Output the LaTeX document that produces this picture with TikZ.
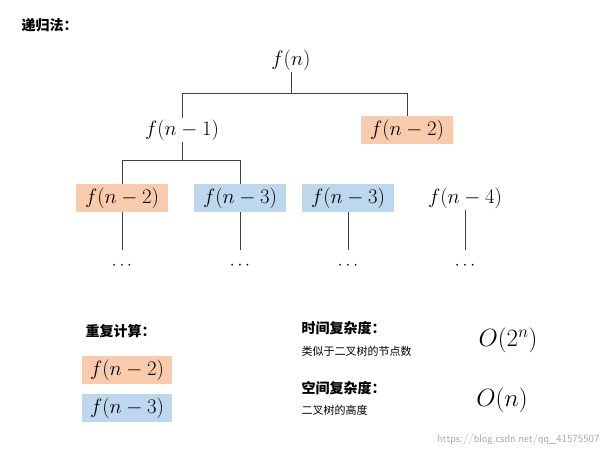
\documentclass[tikz,border=0pt]{standalone}
\usepackage{fontspec}
\newfontfamily\cjk{Noto Sans CJK SC}
\definecolor{org}{HTML}{F8CBAD}
\definecolor{blu}{HTML}{BDD7EE}
\begin{document}
\begin{tikzpicture}[x=1pt,y=-1pt,
 fn/.style={inner sep=1pt,font=\fontsize{20}{22}\selectfont},
 ob/.style={fn,fill=org,minimum width=92pt,minimum height=28pt},
 bb/.style={fn,fill=blu,minimum width=92pt,minimum height=28pt},
 ln/.style={draw=black!75,line width=0.8pt},
 cj/.style={font=\cjk\fontsize{14}{16}\selectfont\bfseries,anchor=west},
 cs/.style={font=\cjk\fontsize{11}{13}\selectfont,anchor=west}]
\useasboundingbox (0,0) rectangle (611,456);
\node[cj] (title) at (18,25) {递归法：};
\node[fn] (r) at (291,60) {$f(n)$};
\node[fn] (a) at (182,130) {$f(n-1)$};
\node[ob] (b) at (407,130) {$f(n-2)$};
\node[ob] (c1) at (122,198) {$f(n-2)$};
\node[bb] (c2) at (240,198) {$f(n-3)$};
\node[bb] (c3) at (348,198) {$f(n-3)$};
\node[fn] (c4) at (465,198) {$f(n-4)$};
\coordinate (j1) at (291,93);
\draw[ln] (r) -- (j1) (182,93) -- (407,93) (182,93) -- (a) (407,93) -- (b.north);
\draw[ln] (a) -- (182,160) (122,160) -- (240,160) (122,160) -- (c1.north) (240,160) -- (c2.north);
\foreach \n/\x in {c1/122,c2/240,c3/348,c4/465}{
  \draw[ln] (\n.south) -- (\x,250);
  \node[font=\fontsize{16}{18}\selectfont] (d\n) at (\x,266) {$\cdots$};
}
\node[cj] (rep) at (82,331) {重复计算：};
\node[ob,minimum width=90pt] (r1) at (127,370) {$f(n-2)$};
\node[bb,minimum width=90pt] (r2) at (127,408) {$f(n-3)$};
\node[cj] (t1) at (298,328) {时间复杂度：};
\node[cs] (t2) at (298,351) {类似于二叉树的节点数};
\node[fn,font=\fontsize{24}{26}\selectfont] (t3) at (508,340) {$O(2^n)$};
\node[cj] (s1) at (298,388) {空间复杂度：};
\node[cs] (s2) at (298,410) {二叉树的高度};
\node[fn,font=\fontsize{24}{26}\selectfont] (s3) at (502,400) {$O(n)$};
\node[font=\sffamily\fontsize{11}{13}\selectfont,text=black!35,anchor=east] (w) at (603,440) {https://blog.csdn.net/qq\_41575507};
\end{tikzpicture}
\end{document}
